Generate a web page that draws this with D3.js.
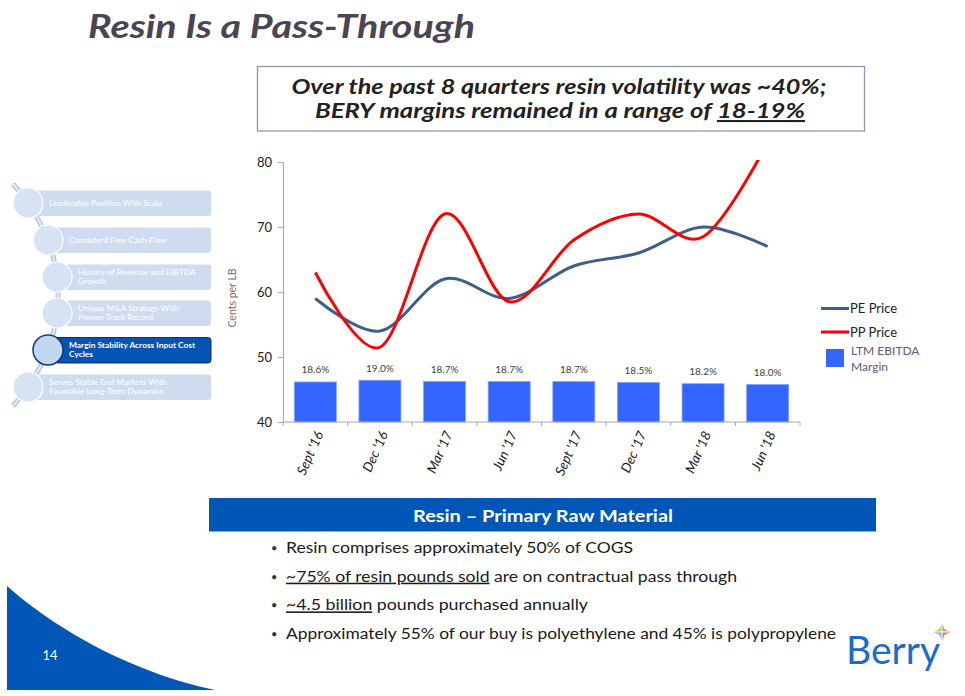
<!DOCTYPE html>
<html><head><meta charset="utf-8">
<script src="https://cdn.jsdelivr.net/npm/d3@7"></script>
<style>body{margin:0;background:#fff;} svg{display:block;font-family:Lato,'Open Sans',sans-serif;}</style>
</head><body><svg id="c" width="965" height="696"></svg>
<script>
// ---- data ----
const categories = ["Sept '16","Dec '16","Mar '17","Jun '17","Sept '17","Dec '17","Mar '18","Jun '18"];
const pePrice = [59, 54, 62, 59, 64, 66, 70, 67];
const ppPrice = [63, 51.5, 72, 58.5, 68, 72, 68.5, 83];
const ebitdaMargin = [18.6, 19.0, 18.7, 18.7, 18.7, 18.5, 18.2, 18.0];
const yTicks = [40, 50, 60, 70, 80];
const seriesNames = ["PE Price", "PP Price", "LTM EBITDA", "Margin"];
const sidebarItems = [
  ["Leadership Position With Scale"],
  ["Consistent Free Cash Flow"],
  ["History of Revenue and EBITDA", "Growth"],
  ["Unique M&A Strategy With", "Proven Track Record"],
  ["Margin Stability Across Input Cost", "Cycles"],
  ["Serves Stable End Markets With", "Favorable Long-Term Dynamics"]
];
const bullets = [
  [["Resin comprises approximately 50% of COGS", false]],
  [["~75% of resin pounds sold", true], [" are on contractual pass through", false]],
  [["~4.5 billion", true], [" pounds purchased annually", false]],
  [["Approximately 55% of our buy is polyethylene and 45% is polypropylene", false]]
];

const svg = d3.select('#c');

// ---- page decoration ----
svg.append('path').attr('d','M7,586 C45,620 120,670 215,690 L7,690 Z').attr('fill','#0057b8');
svg.append('text').attr('x',50).attr('y',660).attr('text-anchor','middle')
  .attr('font-size',13).attr('fill','#fff').text('14');

svg.append('text').attr('x',88).attr('y',38).attr('font-size',33).attr('font-weight','bold')
  .attr('font-style','italic').attr('fill','#4b4452')
  .attr('textLength',387).attr('lengthAdjust','spacingAndGlyphs').text('Resin Is a Pass-Through');

// callout
svg.append('rect').attr('x',257.5).attr('y',66.5).attr('width',607).attr('height',64.5)
  .attr('fill','none').attr('stroke','#8a9aac').attr('stroke-width',1.3);
svg.append('text').attr('x',559).attr('y',94).attr('text-anchor','middle')
  .attr('font-size',21).attr('font-weight','bold').attr('font-style','italic').attr('fill','#222')
  .attr('textLength',535).attr('lengthAdjust','spacingAndGlyphs')
  .text('Over the past 8 quarters resin volatility was ~40%;');
const l2 = svg.append('text').attr('x',560).attr('y',118).attr('text-anchor','middle')
  .attr('font-size',21).attr('font-weight','bold').attr('font-style','italic').attr('fill','#222')
  .attr('textLength',490).attr('lengthAdjust','spacingAndGlyphs');
l2.append('tspan').text('BERY margins remained in a range of ');
l2.append('tspan').attr('text-decoration','underline').text('18-19%');

// ---- sidebar ----
const centers = [[28,203],[48,240],[57,277],[57,313],[48,350],[28,387]];
const conn = [[13,184]].concat(centers).concat([[13,406]]);
const lineGen = d3.line().curve(d3.curveCatmullRom);
svg.append('path').attr('d',lineGen(conn)).attr('fill','none').attr('stroke','#b9c6d8').attr('stroke-width',5);
svg.append('path').attr('d',lineGen(conn)).attr('fill','none').attr('stroke','#e3eaf4').attr('stroke-width',2);
const rectX = [33,50,60,60,55,33];
sidebarItems.forEach((lines,i)=>{
  const [cx,cy] = centers[i];
  const active = i===4;
  svg.append('rect').attr('x',rectX[i]).attr('y',cy-12.5).attr('width',211-rectX[i]).attr('height',25.5)
    .attr('rx',3).attr('fill',active?'#0553b3':'#cfdcef').attr('stroke',active?'#17325e':'none').attr('stroke-width',1);
  svg.append('circle').attr('cx',cx).attr('cy',cy).attr('r',15)
    .attr('fill',active?'#c3d7f1':'#d7e3f4').attr('stroke',active?'#0b3d86':'#ffffff').attr('stroke-width',active?1.5:1.2);
  const t = svg.append('text').attr('font-size',8.4).attr('fill','#fff').attr('font-weight',active?'bold':'normal');
  lines.forEach((s,j)=>{
    const yy = lines.length===1 ? cy+3 : cy-2.5 + j*9.5;
    t.append('tspan').attr('x',cx+21).attr('y',yy).text(s);
  });
});

// ---- chart ----
const x = d3.scaleBand().domain(categories).range([283,800]).paddingInner(0.35).paddingOuter(0.175);
const y = d3.scaleLinear().domain([40,80]).range([422,162]);
const y2 = d3.scaleLinear().domain([9.25,70]).range([422,162]);
const cxp = c => x(c) + x.bandwidth()/2;

svg.append('defs').append('clipPath').attr('id','plot').append('rect')
  .attr('x',283).attr('y',160).attr('width',517).attr('height',262);

// bars
svg.append('g').selectAll('rect').data(ebitdaMargin).join('rect')
  .attr('x',(d,i)=>x(categories[i])).attr('y',d=>y2(d))
  .attr('width',x.bandwidth()).attr('height',d=>y2.range()[0]-y2(d))
  .attr('fill','#3366ff').attr('stroke','#86a2ff').attr('stroke-width',0.8);
svg.append('g').selectAll('text').data(ebitdaMargin).join('text')
  .attr('x',(d,i)=>cxp(categories[i])).attr('y',d=>y2(d)-8.5).attr('text-anchor','middle')
  .attr('font-size',10).attr('fill','#404040').text(d=>d.toFixed(1)+'%');

// y axis
const ya = svg.append('g').attr('transform','translate(283,0)')
  .call(d3.axisLeft(y).tickValues(yTicks).tickSize(5).tickPadding(6));
ya.select('.domain').attr('stroke','#a6a6a6');
ya.selectAll('.tick line').attr('stroke','#a6a6a6');
ya.selectAll('.tick text').attr('font-size',13).attr('fill','#222').attr('font-family','Lato,sans-serif');

// x axis
const xa = svg.append('g');
xa.append('line').attr('x1',283).attr('x2',800).attr('y1',422).attr('y2',422).attr('stroke','#a6a6a6');
xa.selectAll('line.tk').data(d3.range(categories.length+1)).join('line').attr('class','tk')
  .attr('x1',i=>x.range()[0]+i*x.step()).attr('x2',i=>x.range()[0]+i*x.step())
  .attr('y1',422).attr('y2',426).attr('stroke','#a6a6a6');
xa.selectAll('text').data(categories).join('text')
  .attr('transform',c=>`translate(${cxp(c)+4},432) rotate(-66)`)
  .attr('text-anchor','end').attr('dy','0.35em').attr('font-size',13.5).attr('font-style','italic')
  .attr('fill','#222').text(c=>c);

svg.append('text').attr('transform','translate(236,298) rotate(-90)').attr('text-anchor','middle')
  .attr('font-size',10.5).attr('fill','#7d6e66').text('Cents per LB');

// lines
const line = d3.line().x((d,i)=>cxp(categories[i])).y(d=>y(d)).curve(d3.curveCardinal.tension(0));
const lg = svg.append('g').attr('clip-path','url(#plot)');
lg.append('path').datum(pePrice).attr('d',line).attr('fill','none').attr('stroke','#3d5f8c').attr('stroke-width',3);
lg.append('path').datum(ppPrice).attr('d',line).attr('fill','none').attr('stroke','#ff0000').attr('stroke-width',3);

// legend
svg.append('line').attr('x1',821).attr('x2',849).attr('y1',308.5).attr('y2',308.5).attr('stroke','#3d5f8c').attr('stroke-width',3);
svg.append('text').attr('x',850).attr('y',313).attr('font-size',13).attr('fill','#222').text(seriesNames[0]);
svg.append('line').attr('x1',821).attr('x2',849).attr('y1',332).attr('y2',332).attr('stroke','#ff0000').attr('stroke-width',3);
svg.append('text').attr('x',850).attr('y',336.5).attr('font-size',13).attr('fill','#222').text(seriesNames[1]);
svg.append('rect').attr('x',826).attr('y',349).attr('width',18).attr('height',18).attr('fill','#3366ff');
svg.append('text').attr('x',851).attr('y',355).attr('font-size',12).attr('fill','#5b5a78').text(seriesNames[2]);
svg.append('text').attr('x',851).attr('y',371).attr('font-size',12).attr('fill','#5b5a78').text(seriesNames[3]);

// ---- bottom panel ----
svg.append('rect').attr('x',209).attr('y',498).attr('width',667).attr('height',33.5).attr('fill','#0057b8');
svg.append('text').attr('x',543).attr('y',522).attr('text-anchor','middle').attr('font-size',17)
  .attr('font-weight','bold').attr('fill','#fff').attr('textLength',260).attr('lengthAdjust','spacingAndGlyphs')
  .text('Resin – Primary Raw Material');
const bw = [347, 451, 302, 550];
bullets.forEach((parts,i)=>{
  const by = 553 + i*28.7;
  svg.append('text').attr('x',271).attr('y',by-1).attr('font-size',11).attr('fill','#333').text('•');
  const t = svg.append('text').attr('x',286).attr('y',by).attr('font-size',15.5).attr('fill','#1a1a1a')
    .attr('textLength',bw[i]).attr('lengthAdjust','spacingAndGlyphs');
  parts.forEach(([s,u])=>{
    const ts = t.append('tspan').text(s);
    if(u) ts.attr('text-decoration','underline');
  });
});

// ---- logo ----
svg.append('text').attr('x',846).attr('y',664).attr('font-size',38).attr('fill','#1a6ccc')
  .attr('textLength',94).attr('lengthAdjust','spacingAndGlyphs').text('Berry');
const sx=942, sy=632;
const quads = [
  [[0,0],[0,-10],[-3,-3],[-10,0],'#c6d12c'],
  [[0,0],[0,-10],[3,-3],[10,0],'#a9a9ab'],
  [[0,0],[0,10],[-3,3],[-10,0],'#78b6e2'],
  [[0,0],[0,10],[3,3],[10,0],'#ef7f6c']
];
quads.forEach(q=>{
  const pts = q.slice(0,4).map(p=>[sx+p[0], sy+p[1]]);
  svg.append('polygon').attr('points',pts.map(p=>p.join(',')).join(' ')).attr('fill',q[4])
    .attr('stroke','#fff').attr('stroke-width',0.8);
});
</script></body></html>
